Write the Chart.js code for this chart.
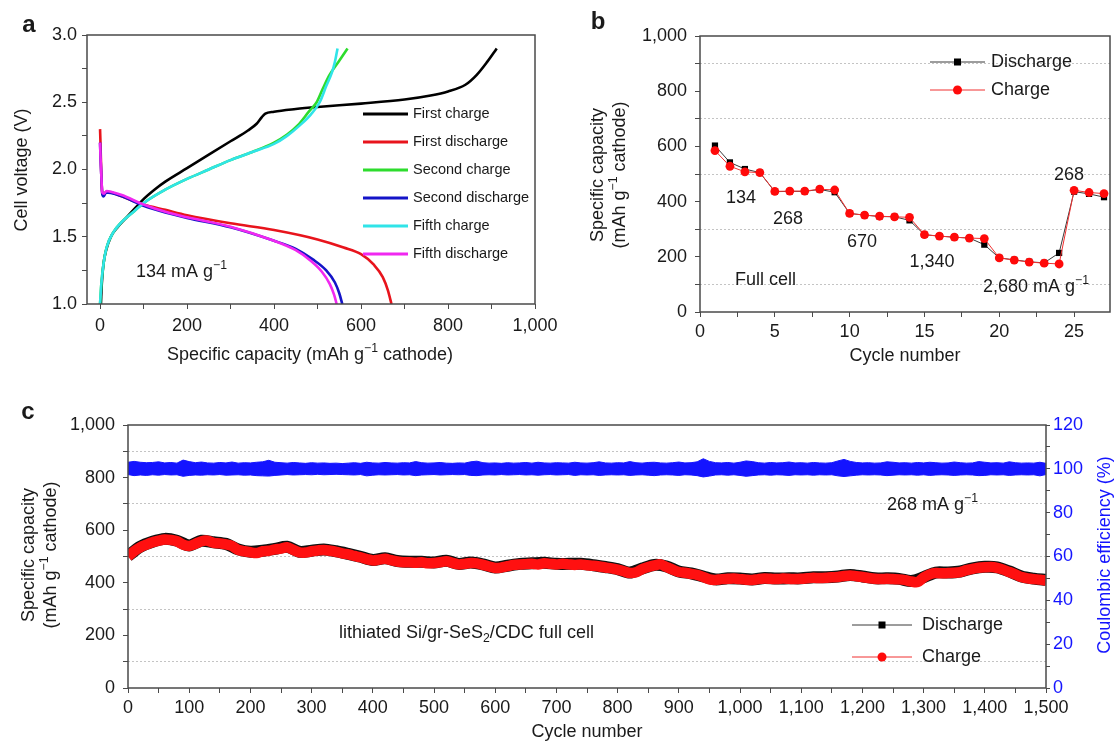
<!DOCTYPE html>
<html>
<head>
<meta charset="utf-8">
<script src="https://cdn.jsdelivr.net/npm/chart.js@4.4.1/dist/chart.umd.min.js"></script>
<style>
  body { margin: 0; background: #fff; width: 1118px; height: 741px; overflow: hidden; position: relative; }
  canvas { position: absolute; }
  #chartA { left: 0; top: 0; }
  #chartB { left: 565px; top: 0; }
  #chartC { left: 0; top: 390px; }
</style>
</head>
<body>
<canvas id="chartA" width="565" height="380"></canvas>
<canvas id="chartB" width="553" height="380"></canvas>
<canvas id="chartC" width="1118" height="351"></canvas>
<script>
// ---- panel a : voltage profiles, [capacity, voltage] pairs
const firstCharge = [[2,1.0],[4,1.15],[8,1.3],[14,1.4],[25,1.5],[40,1.57],[60,1.64],[80,1.71],[100,1.78],[125,1.85],[150,1.91],[200,2.01],[250,2.11],[300,2.21],[340,2.29],[360,2.34],[372,2.39],[380,2.415],[400,2.43],[450,2.45],[500,2.465],[600,2.49],[700,2.52],[760,2.55],[800,2.58],[840,2.63],[865,2.70],[890,2.80],[912,2.90]];
const firstDischarge = [[0,2.3],[1,2.2],[3,1.95],[5,1.83],[8,1.81],[14,1.835],[25,1.83],[50,1.8],[100,1.74],[150,1.70],[200,1.66],[300,1.60],[400,1.55],[500,1.48],[560,1.42],[600,1.37],[630,1.29],[650,1.2],[662,1.1],[670,1.0]];
const secondCharge = [[0,1.0],[3,1.15],[8,1.3],[15,1.42],[30,1.53],[50,1.61],[75,1.68],[100,1.75],[150,1.85],[200,1.93],[250,2.0],[300,2.07],[350,2.13],[400,2.2],[430,2.26],[455,2.33],[480,2.43],[498,2.5],[512,2.6],[527,2.7],[548,2.8],[569,2.9]];
const secondDischarge = [[0,2.2],[1,2.1],[3,1.95],[5,1.82],[8,1.80],[14,1.83],[25,1.825],[50,1.8],[100,1.73],[150,1.68],[200,1.64],[300,1.57],[400,1.47],[450,1.41],[490,1.33],[520,1.25],[540,1.16],[550,1.08],[557,1.0]];
const fifthCharge = [[0,1.0],[3,1.15],[8,1.3],[15,1.42],[30,1.53],[50,1.61],[75,1.68],[100,1.75],[150,1.85],[200,1.93],[250,2.0],[300,2.07],[350,2.13],[400,2.19],[430,2.25],[460,2.33],[485,2.41],[505,2.5],[520,2.62],[533,2.72],[540,2.8],[546,2.9]];
const fifthDischarge = [[0,2.2],[1,2.1],[3,1.95],[5,1.83],[9,1.82],[15,1.84],[25,1.835],[50,1.81],[100,1.74],[150,1.685],[200,1.645],[300,1.575],[400,1.47],[450,1.4],[485,1.32],[510,1.24],[528,1.15],[538,1.07],[544,1.0]];
const curveNamesA = ['First charge', 'First discharge', 'Second charge', 'Second discharge', 'Fifth charge', 'Fifth discharge'];
const capTicksA = [0, 200, 400, 600, 800, 1000];
const capMinorA = [100, 300, 500, 700, 900];
const voltTicksA = [1.0, 1.5, 2.0, 2.5, 3.0];
const voltMinorA = [1.25, 1.75, 2.25, 2.75];

// ---- panel b : rate capability
const cyclesB = [1,2,3,4,5,6,7,8,9,10,11,12,13,14,15,16,17,18,19,20,21,22,23,24,25,26,27];
const dischargeB = [603,542,518,505,436,437,437,444,434,357,351,346,345,332,280,275,271,268,244,196,189,182,178,214,436,428,416];
const chargeB = [585,528,508,505,437,438,438,445,442,357,351,347,345,343,280,275,271,268,266,196,188,181,177,174,441,433,429];
const cycleTicksB = [0, 5, 10, 15, 20, 25];
const cycleMinorB = [2.5, 7.5, 12.5, 17.5, 22.5];
const capTicks = [0, 200, 400, 600, 800, 1000];
const capMinor = [100, 300, 500, 700, 900];

// ---- panel c : long cycling, one reading every 10 cycles (discharge every 20)
const chargeC = [
  500,520,535,545,554,560,565,563,558,545,
  540,548,558,560,552,550,546,540,525,520,
  516,513,520,522,527,530,535,525,516,515,
  520,523,525,522,518,512,508,502,497,490,
  485,488,491,486,481,478,478,476,478,474,
  475,478,482,476,470,472,475,474,468,462,
  456,458,463,468,470,471,472,470,474,472,
  470,472,470,468,470,467,465,462,458,455,
  450,444,437,440,452,460,466,470,460,450,
  441,438,434,430,422,413,411,414,415,416,
  414,412,411,414,416,415,414,416,415,414,
  415,417,419,418,419,421,422,426,428,425,
  422,418,415,414,415,414,413,410,405,403,
  420,432,437,436,437,438,441,448,453,457,
  459,460,457,450,441,432,422,417,414,412,
  409];
const dischargeC = [
  502,537,556,567,560, 542,560,554,548,527, 518,522,529,537,518,
  522,527,520,510,499, 487,493,483,480,480, 477,484,472,477,470,
  458,465,472,474,476, 472,472,472,467,460, 452,439,454,468,462,
  443,436,424,413,417, 416,413,418,416,417, 417,421,421,424,430,
  424,417,417,415,407, 421,439,439,443,455, 461,459,443,424,416,
  411];
const ceHighC = [
  103.0,103.4,103.0,102.8,102.9,103.2,102.7,102.9,102.6,104.0,
  103.3,102.8,103.1,102.7,102.6,102.9,102.7,103.1,102.6,102.8,
  102.7,103.0,103.2,103.9,103.0,102.8,102.6,102.9,102.7,102.5,
  102.8,102.6,102.7,102.5,102.6,102.4,102.6,102.8,102.5,103.0,
  102.7,102.6,102.9,102.7,102.6,102.8,102.7,103.3,102.8,102.6,
  102.7,102.9,102.6,102.5,102.7,102.6,103.2,103.5,102.8,102.6,
  102.7,102.5,102.8,102.6,102.7,102.9,102.6,103.0,102.7,102.6,
  102.8,102.7,102.6,103.0,102.7,102.6,102.8,103.2,102.7,102.6,
  102.8,102.7,103.3,102.8,102.6,102.9,103.0,102.7,102.6,102.8,
  103.1,102.7,102.8,103.2,104.6,103.4,102.8,102.7,102.9,102.6,
  103.0,103.6,103.3,102.8,102.6,102.9,102.7,102.8,103.1,102.7,
  102.8,102.6,102.9,102.7,102.6,102.8,103.6,104.3,103.4,102.9,
  102.7,102.8,102.6,102.7,103.2,103.0,102.7,102.8,102.6,102.9,
  102.7,103.0,102.8,102.6,102.7,103.1,102.8,102.6,102.7,103.3,
  103.0,102.7,102.8,102.6,103.2,102.8,102.6,102.7,102.6,103.0,
  102.5];
const ceLowC = [
  97.4,96.9,97.2,97.0,97.3,97.1,97.4,97.2,97.3,96.6,
  97.0,97.2,97.1,97.3,97.2,97.4,97.1,97.2,97.3,97.1,
  97.2,96.9,96.8,96.7,97.0,97.2,97.4,97.2,97.3,97.4,
  97.3,97.5,97.3,97.4,97.5,97.4,97.3,97.2,97.4,96.8,
  97.1,97.3,97.2,97.3,97.4,97.2,97.3,96.9,97.2,97.3,
  97.4,97.2,97.3,97.4,97.3,97.4,97.0,96.9,97.2,97.3,
  97.2,97.4,97.2,97.3,97.4,97.2,97.3,97.1,97.3,97.4,
  97.2,97.3,97.4,97.0,97.3,97.2,97.3,97.0,97.2,97.3,
  97.2,97.3,97.0,97.2,97.3,97.1,96.9,97.2,97.3,97.2,
  97.0,97.3,97.2,96.9,96.3,96.7,97.2,97.3,97.1,97.3,
  97.0,96.6,96.9,97.2,97.3,97.1,97.3,97.2,97.0,97.3,
  97.2,97.3,97.1,97.3,97.2,97.3,96.8,96.5,96.8,97.1,
  97.3,97.2,97.3,97.2,96.9,97.1,97.3,97.2,97.3,97.1,
  97.3,97.0,97.2,97.3,97.2,97.0,97.2,97.3,97.2,96.9,
  97.0,97.3,97.2,97.3,97.0,97.2,97.3,97.2,97.3,96.8,
  97.4];
const stepC = 10, stepDischargeC = 20;
const cycleTicksC = [0,100,200,300,400,500,600,700,800,900,1000,1100,1200,1300,1400,1500];
const cycleMinorC = [50,150,250,350,450,550,650,750,850,950,1050,1150,1250,1350,1450];
const ceTicksC = [0, 20, 40, 60, 80, 100, 120];
const ceMinorC = [10, 30, 50, 70, 90, 110];

// ---- shared look
const FONT = '"Liberation Sans", Arial, Helvetica, sans-serif';
const INK = '#1a1a1a';
const CE_BLUE = '#1414ff';
Chart.defaults.font.family = FONT;
Chart.defaults.font.size = 18;
Chart.defaults.color = INK;

const pairs = arr => arr.map(p => ({x: p[0], y: p[1]}));
const fmtNum = v => v.toLocaleString('en-US');
const fixTicks = (major, minor) => s => {
    s.ticks = major.concat(minor).sort((a, b) => a - b).map(v => ({value: v}));
};
const onlyMajor = (major, fmt) => v => major.includes(v) ? fmt(v) : '';

// draws a string made of normal / superscript / subscript runs
function drawRich(ctx, runs, x, y, size, o = {}) {
    const weight = o.bold ? 'bold ' : '';
    const parts = runs.map(r => {
        const t = typeof r === 'string' ? r : r[0];
        const kind = typeof r === 'string' ? '' : r[1];
        const s = kind ? size * 0.68 : size;
        ctx.font = weight + s + 'px ' + FONT;
        return {t, kind, s, w: ctx.measureText(t).width};
    });
    const total = parts.reduce((a, p) => a + p.w, 0);
    ctx.save();
    ctx.translate(x, y);
    if (o.rotate) ctx.rotate(o.rotate);
    ctx.fillStyle = o.color || INK;
    ctx.textBaseline = 'middle';
    ctx.textAlign = 'left';
    let cx = o.align === 'left' ? 0 : -total / 2;
    parts.forEach(p => {
        ctx.font = weight + p.s + 'px ' + FONT;
        const dy = p.kind === 'sup' ? -size * 0.36 : (p.kind === 'sub' ? size * 0.3 : 0);
        ctx.fillText(p.t, cx, dy);
        cx += p.w;
    });
    ctx.restore();
}

const framePlugin = {
    id: 'frame',
    afterDatasetsDraw(chart) {
        const {ctx, chartArea: a} = chart;
        ctx.save();
        ctx.strokeStyle = '#4a4a4a';
        ctx.lineWidth = 1.5;
        ctx.strokeRect(a.left, a.top, a.right - a.left, a.bottom - a.top);
        ctx.restore();
    }
};

const notesPlugin = {
    id: 'notes',
    afterDraw(chart, args, opts) {
        (opts.items || []).forEach(it => drawRich(chart.ctx, it.runs, it.x, it.y, it.size || 18, it));
    }
};

// legend drawn as "line + marker + label", like the original figure
const lineLegendPlugin = {
    id: 'lineLegend',
    afterDraw(chart, args, o) {
        if (!o.items) return;
        const ctx = chart.ctx;
        o.items.forEach((it, i) => {
            const y = o.y + i * o.dy;
            ctx.save();
            ctx.strokeStyle = it.color;
            ctx.lineWidth = it.width;
            ctx.beginPath();
            ctx.moveTo(o.x, y);
            ctx.lineTo(o.x + o.len, y);
            ctx.stroke();
            const mx = o.x + o.len / 2;
            ctx.fillStyle = it.markColor || it.color;
            if (it.marker === 'rect') {
                ctx.fillRect(mx - it.size / 2, y - it.size / 2, it.size, it.size);
            } else if (it.marker === 'circle') {
                ctx.beginPath();
                ctx.arc(mx, y, it.size / 2, 0, Math.PI * 2);
                ctx.fill();
            }
            ctx.font = o.font + 'px ' + FONT;
            ctx.fillStyle = INK;
            ctx.textBaseline = 'middle';
            ctx.fillText(it.label, o.x + o.len + o.gap, y);
            ctx.restore();
        });
    }
};

const SUP = '\u22121';

// ================= panel a =================
const colorsA = ['#000000', '#e8141c', '#2ddc2d', '#1414c8', '#30e4e8', '#f028f0'];
const curvesA = [firstCharge, firstDischarge, secondCharge, secondDischarge, fifthCharge, fifthDischarge];
const drawOrderA = [6, 5, 4, 3, 2, 1];

new Chart(document.getElementById('chartA'), {
    type: 'line',
    data: {
        datasets: curvesA.map((c, i) => ({
            label: curveNamesA[i],
            data: pairs(c),
            borderColor: colorsA[i],
            borderWidth: 2.6,
            pointRadius: 0,
            cubicInterpolationMode: 'monotone',
            order: drawOrderA[i]
        }))
    },
    options: {
        responsive: false,
        animation: false,
        events: [],
        layout: {padding: {top: 35, right: 30, left: 0, bottom: 0}},
        scales: {
            x: {
                type: 'linear', min: -30, max: 1000,
                afterBuildTicks: fixTicks(capTicksA, capMinorA),
                afterFit: s => { s.height = 76; },
                ticks: {autoSkip: false, maxRotation: 0, padding: 6, callback: onlyMajor(capTicksA, fmtNum)},
                grid: {drawOnChartArea: false, tickLength: 5, tickColor: '#4a4a4a'},
                border: {display: false}
            },
            y: {
                type: 'linear', min: 1.0, max: 3.0,
                afterBuildTicks: fixTicks(voltTicksA, voltMinorA),
                afterFit: s => { s.width = 87; },
                ticks: {autoSkip: false, padding: 5, callback: onlyMajor(voltTicksA, v => v.toFixed(1))},
                grid: {drawOnChartArea: false, tickLength: 5, tickColor: '#4a4a4a'},
                border: {display: false}
            }
        },
        plugins: {
            legend: {display: false},
            tooltip: {enabled: false},
            lineLegend: {
                x: 363, y: 114, dy: 28, len: 45, gap: 5, font: 14.5,
                items: curveNamesA.map((n, i) => ({label: n, color: colorsA[i], width: 3}))
            },
            notes: {
                items: [
                    {runs: ['a'], x: 29, y: 25, size: 24, bold: true},
                    {runs: ['Cell voltage (V)'], x: 22, y: 170, rotate: -Math.PI / 2},
                    {runs: ['Specific capacity (mAh g', [SUP, 'sup'], ' cathode)'], x: 310, y: 355},
                    {runs: ['134 mA g', [SUP, 'sup']], x: 136, y: 272, align: 'left'}
                ]
            }
        }
    },
    plugins: [framePlugin, notesPlugin, lineLegendPlugin]
});

// ================= panel b =================
const gridOdd = ctx => (ctx.tick && ctx.tick.value % 200 === 100) ? '#c4c4c4' : 'rgba(0,0,0,0)';

new Chart(document.getElementById('chartB'), {
    type: 'line',
    data: {
        datasets: [
            {
                label: 'Discharge',
                data: cyclesB.map((c, i) => ({x: c, y: dischargeB[i]})),
                borderColor: '#3a3a3a', borderWidth: 1,
                pointStyle: 'rect', pointRadius: 4.4, pointBackgroundColor: '#000', pointBorderWidth: 0,
                order: 2
            },
            {
                label: 'Charge',
                data: cyclesB.map((c, i) => ({x: c, y: chargeB[i]})),
                borderColor: '#f03030', borderWidth: 1,
                pointStyle: 'circle', pointRadius: 4.4, pointBackgroundColor: '#ff0a0a', pointBorderWidth: 0,
                order: 1
            }
        ]
    },
    options: {
        responsive: false,
        animation: false,
        events: [],
        layout: {padding: {top: 36, right: 8, left: 0, bottom: 0}},
        scales: {
            x: {
                type: 'linear', min: 0, max: 27.4,
                afterBuildTicks: fixTicks(cycleTicksB, cycleMinorB),
                afterFit: s => { s.height = 68; },
                ticks: {autoSkip: false, maxRotation: 0, padding: 4, callback: onlyMajor(cycleTicksB, fmtNum)},
                grid: {drawOnChartArea: false, tickLength: 5, tickColor: '#4a4a4a'},
                border: {display: false}
            },
            y: {
                type: 'linear', min: 0, max: 1000,
                afterBuildTicks: fixTicks(capTicks, capMinor),
                afterFit: s => { s.width = 135; },
                ticks: {autoSkip: false, padding: 8, callback: onlyMajor(capTicks, fmtNum)},
                grid: {color: gridOdd, lineWidth: 1, tickLength: 5, tickColor: '#4a4a4a'},
                border: {display: false, dash: [2, 2]}
            }
        },
        plugins: {
            legend: {display: false},
            tooltip: {enabled: false},
            lineLegend: {
                x: 365, y: 62, dy: 28, len: 55, gap: 6, font: 18,
                items: [
                    {label: 'Discharge', color: '#3a3a3a', width: 1, marker: 'rect', size: 7, markColor: '#000'},
                    {label: 'Charge', color: '#f03030', width: 1, marker: 'circle', size: 9, markColor: '#ff0a0a'}
                ]
            },
            notes: {
                items: [
                    {runs: ['b'], x: 33, y: 22, size: 24, bold: true},
                    {runs: ['Specific capacity'], x: 33, y: 175, rotate: -Math.PI / 2},
                    {runs: ['(mAh g', [SUP, 'sup'], ' cathode)'], x: 55, y: 175, rotate: -Math.PI / 2},
                    {runs: ['Cycle number'], x: 340, y: 356},
                    {runs: ['134'], x: 176, y: 198},
                    {runs: ['268'], x: 223, y: 219},
                    {runs: ['670'], x: 297, y: 242},
                    {runs: ['1,340'], x: 367, y: 262},
                    {runs: ['2,680 mA g', [SUP, 'sup']], x: 418, y: 287, align: 'left'},
                    {runs: ['268'], x: 504, y: 175},
                    {runs: ['Full cell'], x: 170, y: 280, align: 'left'}
                ]
            }
        }
    },
    plugins: [framePlugin, notesPlugin, lineLegendPlugin]
});

// ================= panel c =================
new Chart(document.getElementById('chartC'), {
    type: 'line',
    data: {
        datasets: [
            {
                label: 'CE upper',
                data: ceHighC.map((v, i) => ({x: i * stepC, y: v})),
                yAxisID: 'y2', borderColor: CE_BLUE, borderWidth: 1, pointRadius: 0, fill: false, order: 1
            },
            {
                label: 'CE lower',
                data: ceLowC.map((v, i) => ({x: i * stepC, y: v})),
                yAxisID: 'y2', borderColor: CE_BLUE, borderWidth: 1, pointRadius: 0,
                fill: '-1', backgroundColor: CE_BLUE, order: 1
            },
            {
                label: 'Discharge',
                data: dischargeC.map((v, i) => ({x: i * stepDischargeC, y: v})),
                yAxisID: 'y', borderColor: '#111', borderWidth: 12, pointRadius: 0, tension: 0.3, order: 3
            },
            {
                label: 'Charge',
                data: chargeC.map((v, i) => ({x: i * stepC, y: v})),
                yAxisID: 'y', borderColor: '#ff1010', borderWidth: 10.5, pointRadius: 0, tension: 0.3, order: 2
            }
        ]
    },
    options: {
        responsive: false,
        animation: false,
        events: [],
        layout: {padding: {top: 35, right: 0, left: 0, bottom: 0}},
        scales: {
            x: {
                type: 'linear', min: 0, max: 1500,
                afterBuildTicks: fixTicks(cycleTicksC, cycleMinorC),
                afterFit: s => { s.height = 53; },
                ticks: {autoSkip: false, maxRotation: 0, padding: 4, callback: onlyMajor(cycleTicksC, fmtNum)},
                grid: {drawOnChartArea: false, tickLength: 5, tickColor: '#4a4a4a'},
                border: {display: false}
            },
            y: {
                type: 'linear', position: 'left', min: 0, max: 1000,
                afterBuildTicks: fixTicks(capTicks, capMinor),
                afterFit: s => { s.width = 128; },
                ticks: {autoSkip: false, padding: 8, callback: onlyMajor(capTicks, fmtNum)},
                grid: {color: gridOdd, lineWidth: 1, tickLength: 5, tickColor: '#4a4a4a'},
                border: {display: false, dash: [2, 2]}
            },
            y2: {
                type: 'linear', position: 'right', min: 0, max: 120,
                afterBuildTicks: fixTicks(ceTicksC, ceMinorC),
                afterFit: s => { s.width = 72; },
                ticks: {autoSkip: false, padding: 3, color: CE_BLUE, callback: onlyMajor(ceTicksC, v => String(v))},
                grid: {drawOnChartArea: false, tickLength: 4, tickColor: '#4a4a4a'},
                border: {display: false}
            }
        },
        plugins: {
            legend: {display: false},
            tooltip: {enabled: false},
            lineLegend: {
                x: 852, y: 235, dy: 32, len: 60, gap: 10, font: 18,
                items: [
                    {label: 'Discharge', color: '#3a3a3a', width: 1, marker: 'rect', size: 7, markColor: '#000'},
                    {label: 'Charge', color: '#f03030', width: 1, marker: 'circle', size: 9, markColor: '#ff0a0a'}
                ]
            },
            notes: {
                items: [
                    {runs: ['c'], x: 28, y: 22, size: 24, bold: true},
                    {runs: ['Specific capacity'], x: 29, y: 165, rotate: -Math.PI / 2},
                    {runs: ['(mAh g', [SUP, 'sup'], ' cathode)'], x: 51, y: 165, rotate: -Math.PI / 2},
                    {runs: ['Coulombic efficiency (%)'], x: 1105, y: 165, rotate: -Math.PI / 2, color: CE_BLUE},
                    {runs: ['Cycle number'], x: 587, y: 342},
                    {runs: ['268 mA g', [SUP, 'sup']], x: 887, y: 115, align: 'left'},
                    {runs: ['lithiated Si/gr-SeS', ['2', 'sub'], '/CDC full cell'], x: 339, y: 243, align: 'left'}
                ]
            }
        }
    },
    plugins: [framePlugin, notesPlugin, lineLegendPlugin]
});
</script>
</body>
</html>
